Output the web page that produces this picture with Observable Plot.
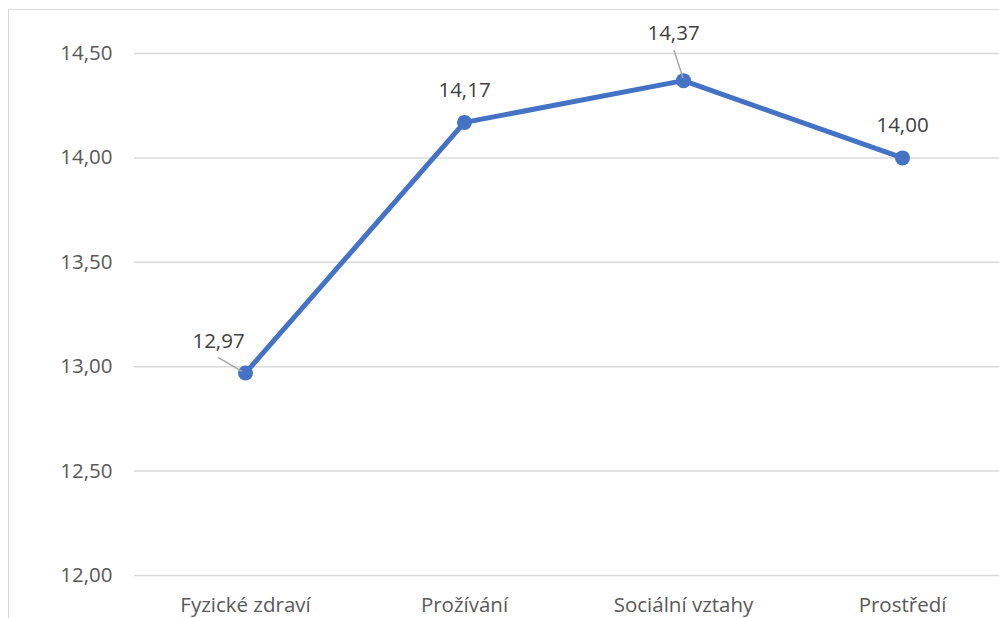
<!DOCTYPE html>
<html>
<head>
<meta charset="utf-8">
<script src="https://cdn.jsdelivr.net/npm/d3@7"></script>
<script src="https://cdn.jsdelivr.net/npm/@observablehq/plot@0.6"></script>
<style>
  html, body { margin: 0; padding: 0; background: #fff; overflow: hidden; }
  #frame { position: absolute; left: 8px; top: 9px; width: 2000px; height: 2000px;
           border: 1.5px solid #d9d9d9; box-sizing: border-box; }
  #chart { position: absolute; left: 0; top: 0; width: 1012px; }
  #chart svg { max-width: none !important; }
</style>
</head>
<body>
<div id="frame"></div>
<div id="chart"></div>
<script>
// Mean domain scores
const categories = ["Fyzické zdraví", "Prožívání", "Sociální vztahy", "Prostředí"];
const scores = [12.97, 14.17, 14.37, 14.00];
const yTicks = [12, 12.5, 13, 13.5, 14, 14.5];

// Where each value label sits relative to its point, in pixels [dx, dy]
const labelOffsets = [[-27, -32], [0, -32], [-10, -47], [0, -32]];
// Leader lines for labels that were pulled away from their point: [index, from, to]
const leaders = [[0, [-27, -15], [-3, -1]], [2, [-9, -30], [0, -2]]];

const comma = v => v.toFixed(2).replace(".", ",");
const data = categories.map((category, i) => ({category, score: scores[i]}));

const labelMarks = data.map((d, i) =>
  Plot.text([d], {
    x: "category", y: "score", text: d => comma(d.score),
    dx: labelOffsets[i][0], dy: labelOffsets[i][1],
    fill: "#404040", fontSize: 20.5
  })
);

const plot = Plot.plot({
  width: 1012,
  height: 618,
  marginTop: 53,
  marginBottom: 43,
  marginLeft: 134,
  marginRight: 0,
  style: {fontFamily: "'Open Sans', sans-serif", fontSize: "20.5px", color: "#595959",
          background: "transparent", maxWidth: "none"},
  x: {type: "point", domain: categories, padding: 0.5, label: null, tickSize: 0, tickPadding: 22},
  y: {domain: [12, 14.5], ticks: yTicks, tickFormat: comma, label: null, tickSize: 0, tickPadding: 22},
  marks: [
    Plot.ruleY(yTicks, {stroke: "#d9d9d9", strokeWidth: 1.5}),
    Plot.lineY(data, {x: "category", y: "score", stroke: "#4472C4", strokeWidth: 5, strokeLinejoin: "round"}),
    Plot.dot(data, {x: "category", y: "score", r: 7.5, fill: "#4472C4"}),
    ...labelMarks
  ]
});

// Leader lines, placed through the plot's own scales
const sx = plot.scale("x"), sy = plot.scale("y");
const g = d3.select(plot).append("g").attr("stroke", "#a6a6a6").attr("stroke-width", 1.5);
for (const [i, from, to] of leaders) {
  const px = sx.apply(categories[i]), py = sy.apply(scores[i]);
  g.append("line")
    .attr("x1", px + from[0]).attr("y1", py + from[1])
    .attr("x2", px + to[0]).attr("y2", py + to[1]);
}

document.getElementById("chart").appendChild(plot);
</script>
</body>
</html>
